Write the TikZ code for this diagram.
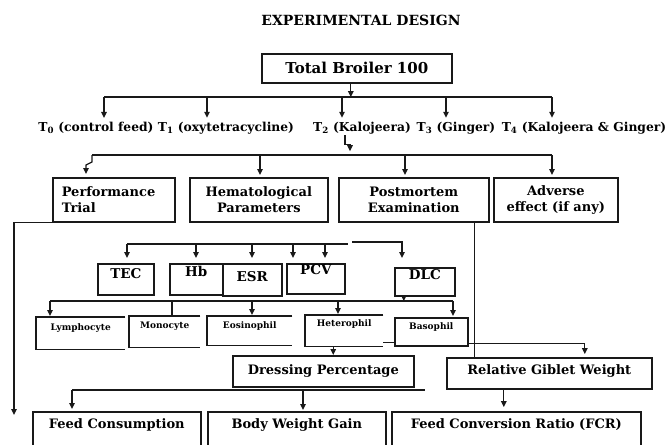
\documentclass[tikz,border=0pt]{standalone}
\usepackage{fontspec}
\setmainfont{DejaVu Serif}
\usetikzlibrary{arrows.meta}

\begin{document}
\begin{tikzpicture}[x=1pt,y=-1pt,
  ln/.style={draw=black!90, line width=1.3pt},
  arr/.style={ln, -{Triangle[length=6pt,width=5.5pt]}},
  box/.style={draw=black!90, line width=1.6pt, anchor=north west, inner sep=0pt, align=center},
  openbox/.style={anchor=north west, inner sep=0pt, align=center},
  fbig/.style={font=\fontsize{15}{18}\selectfont\bfseries},
  ftitle/.style={font=\fontsize{14}{17}\selectfont\bfseries},
  ftreat/.style={font=\fontsize{12.3}{15}\selectfont\bfseries, inner sep=1pt},
  fmain/.style={font=\fontsize{13}{16}\selectfont\bfseries},
  fsub/.style={font=\fontsize{13.5}{16}\selectfont\bfseries},
  fsmall/.style={font=\fontsize{9}{11}\selectfont\bfseries},
]
\useasboundingbox (0,0) rectangle (671,444);
\clip (0,0) rectangle (671,444);

% heading and root box
\node[ftitle] (title) at (361,20) {EXPERIMENTAL DESIGN};
\node[box, fbig, minimum width=190, minimum height=29] (top) at (261,53) {Total Broiler 100};

% treatment groups
\node[ftreat] (t0) at (96,128) {T\textsubscript{0} (control feed)};
\node[ftreat] (t1) at (226,128) {T\textsubscript{1} (oxytetracycline)};
\node[ftreat] (t2) at (362,128) {T\textsubscript{2} (Kalojeera)};
\node[ftreat] (t3) at (456,128) {T\textsubscript{3} (Ginger)};
\node[ftreat] (t4) at (584,128) {T\textsubscript{4} (Kalojeera \& Ginger)};

% second level boxes
\node[box, fmain, minimum width=122, minimum height=44, text width=104, align=left] (perf) at (52,177) {Performance\\Trial};
\node[box, fmain, minimum width=138, minimum height=44] (hema) at (189,177) {Hematological\\Parameters};
\node[box, fmain, minimum width=150, minimum height=44] (post) at (338,177) {Postmortem\\Examination};
\node[box, fmain, minimum width=124, minimum height=44] (adv) at (493,177) {Adverse\\effect (if any)};

% blood parameters
\node[box, fsub, minimum width=56, minimum height=31, text depth=12pt] (tec) at (97,263) {TEC};
\node[box, fsub, minimum width=53, minimum height=31, text depth=16pt] (hb) at (169,263) {Hb};
\node[box, fsub, minimum width=59, minimum height=32, text depth=7pt] (esr) at (222,263) {ESR};
\node[box, fsub, minimum width=58, minimum height=30, text depth=18pt] (pcv) at (286,263) {PCV};
\node[box, fsub, minimum width=60, minimum height=28, text depth=15pt] (dlc) at (394,267) {DLC};

% differential leucocyte count
\node[openbox, fsmall, minimum width=89, minimum height=32, text depth=12pt] (lym) at (36,317) {Lymphocyte};
\node[openbox, fsmall, minimum width=71, minimum height=31, text depth=13pt] (mono) at (129,316) {Monocyte};
\node[openbox, fsmall, minimum width=85, minimum height=29, text depth=11pt] (eos) at (207,316) {Eosinophil};
\node[openbox, fsmall, minimum width=78, minimum height=31, text depth=15pt] (het) at (305,315) {Heterophil};
\node[box, fsmall, minimum width=73, minimum height=28, text depth=12pt] (baso) at (394,317) {Basophil};

% carcass traits
\node[box, fmain, minimum width=181, minimum height=31] (dress) at (232,355) {Dressing Percentage};
\node[box, fmain, minimum width=205, minimum height=31, text depth=7pt] (rgw) at (446,357) {Relative Giblet Weight};

% performance parameters
\node[box, fmain, minimum width=168, minimum height=60, text depth=37pt] (fc) at (32,411) {Feed Consumption};
\node[box, fmain, minimum width=178, minimum height=60, text depth=37pt] (bwg) at (207,411) {Body Weight Gain};
\node[box, fmain, minimum width=249, minimum height=60, text depth=37pt] (fcr) at (391,411) {Feed Conversion Ratio (FCR)};

% open sided boxes
\draw[ln] (lym.north east) -- (lym.north west) -- (lym.south west) -- (lym.south east);
\draw[ln] (mono.north east) -- (mono.north west) -- (mono.south west) -- (mono.south east);
\draw[ln] (eos.north east) -- (eos.north west) -- (eos.south west) -- (eos.south east);
\draw[ln] (het.north east) -- (het.north west) -- (het.south west) -- (het.south east);

% root to treatments
\coordinate (b1a) at (104,97);
\coordinate (b1b) at (207,97);
\coordinate (b1c) at (342,97);
\coordinate (b1d) at (446,97);
\coordinate (b1e) at (552,97);
\draw[arr] ([xshift=-6pt]top.south) -- ([xshift=-6pt]top.south |- b1a);
\draw[ln] (b1a) -- (b1e);
\draw[arr, shorten >=3pt] (b1a) -- (b1a |- t0.north);
\draw[arr, shorten >=3pt] (b1b) -- (b1b |- t1.north);
\draw[arr, shorten >=3pt] (b1c) -- (b1c |- t2.north);
\draw[arr, shorten >=3pt] (b1d) -- (b1d |- t3.north);
\draw[arr, shorten >=3pt] (b1e) -- (b1e |- t4.north);

% treatments to measured traits
\coordinate (b2L) at (92,155);
\coordinate (b2h) at (260,155);
\coordinate (b2p) at (405,155);
\coordinate (b2R) at (552,155);
\draw[arr] ([xshift=-17pt]t2.south) -- ++(0,9) -- ++(5,0) -- ++(0,7);
\draw[ln] (b2L) -- (b2R);
\draw[arr] (b2L) -- ++(0,7) -- ++(-6,3) -- ++(0,9);
\draw[arr, shorten >=2pt] (b2h) -- (b2h |- hema.north);
\draw[arr, shorten >=2pt] (b2p) -- (b2p |- post.north);
\draw[arr, shorten >=2pt] (b2R) -- (b2R |- adv.north);

% performance trial and postmortem leads
\coordinate (pfEnd) at (14,415);
\draw[arr] (perf.south west) -| (pfEnd);
\draw[ln] ([xshift=61pt]post.south) -- ([xshift=61pt]post.south |- rgw.north);

% blood parameter bus
\coordinate (h1) at (127,244);
\coordinate (h2) at (196,244);
\coordinate (h3) at (252,244);
\coordinate (h4) at (293,244);
\coordinate (h5) at (325,244);
\coordinate (hM) at (348,244);
\coordinate (hN) at (352,242);
\coordinate (hR) at (402,242);
\draw[ln] (h1) -- (hM);
\draw[arr, shorten >=5pt] (h1) -- (h1 |- tec.north);
\draw[arr, shorten >=5pt] (h2) -- (h2 |- hb.north);
\draw[arr, shorten >=5pt] (h3) -- (h3 |- esr.north);
\draw[arr, shorten >=5pt] (h4) -- (h4 |- pcv.north);
\draw[arr, shorten >=5pt] (h5) -- (h5 |- pcv.north);
\draw[arr, shorten >=9pt] (hN) -- (hR) -- (hR |- dlc.north);

% differential count bus
\coordinate (d0) at (50,301);
\coordinate (dm) at (172,301);
\coordinate (de) at (252,301);
\coordinate (dh) at (338,301);
\coordinate (dR) at (453,301);
\draw[ln] (d0) -- (dR);
\draw[arr] ([xshift=-21pt]dlc.south) -- ([xshift=-21pt]dlc.south |- d0);
\draw[arr, shorten >=1pt] (d0) -- (d0 |- lym.north);
\draw[ln] (dm) -- (dm |- mono.north);
\draw[arr, shorten >=1pt] (de) -- (de |- eos.north);
\draw[arr, shorten >=1pt] (dh) -- (dh |- het.north);
\draw[arr, shorten >=1pt] (dR) -- (dR |- baso.north);

% links into carcass traits
\draw[ln] ([yshift=4pt]het.south east) -- ([yshift=4pt]het.south east -| baso.west);
\draw[arr, shorten >=3pt] ([yshift=3pt]baso.south east) -| ([xshift=35.5pt]rgw.north);
\draw[arr] ([xshift=-11pt]het.south) -- ([xshift=-11pt]het.south |- dress.north);

% carcass traits to performance parameters
\coordinate (e0) at (72,390);
\coordinate (e1) at (303,390);
\coordinate (eR) at (425,390);
\draw[ln] (e0) -- (eR);
\draw[arr, shorten >=2pt] (e0) -- (e0 |- fc.north);
\draw[arr, shorten >=1pt] (e1) -- (e1 |- bwg.north);
\draw[arr, shorten >=4pt] ([xshift=-45.5pt]rgw.south) -- ([xshift=-45.5pt]rgw.south |- fcr.north);
\end{tikzpicture}
\end{document}
